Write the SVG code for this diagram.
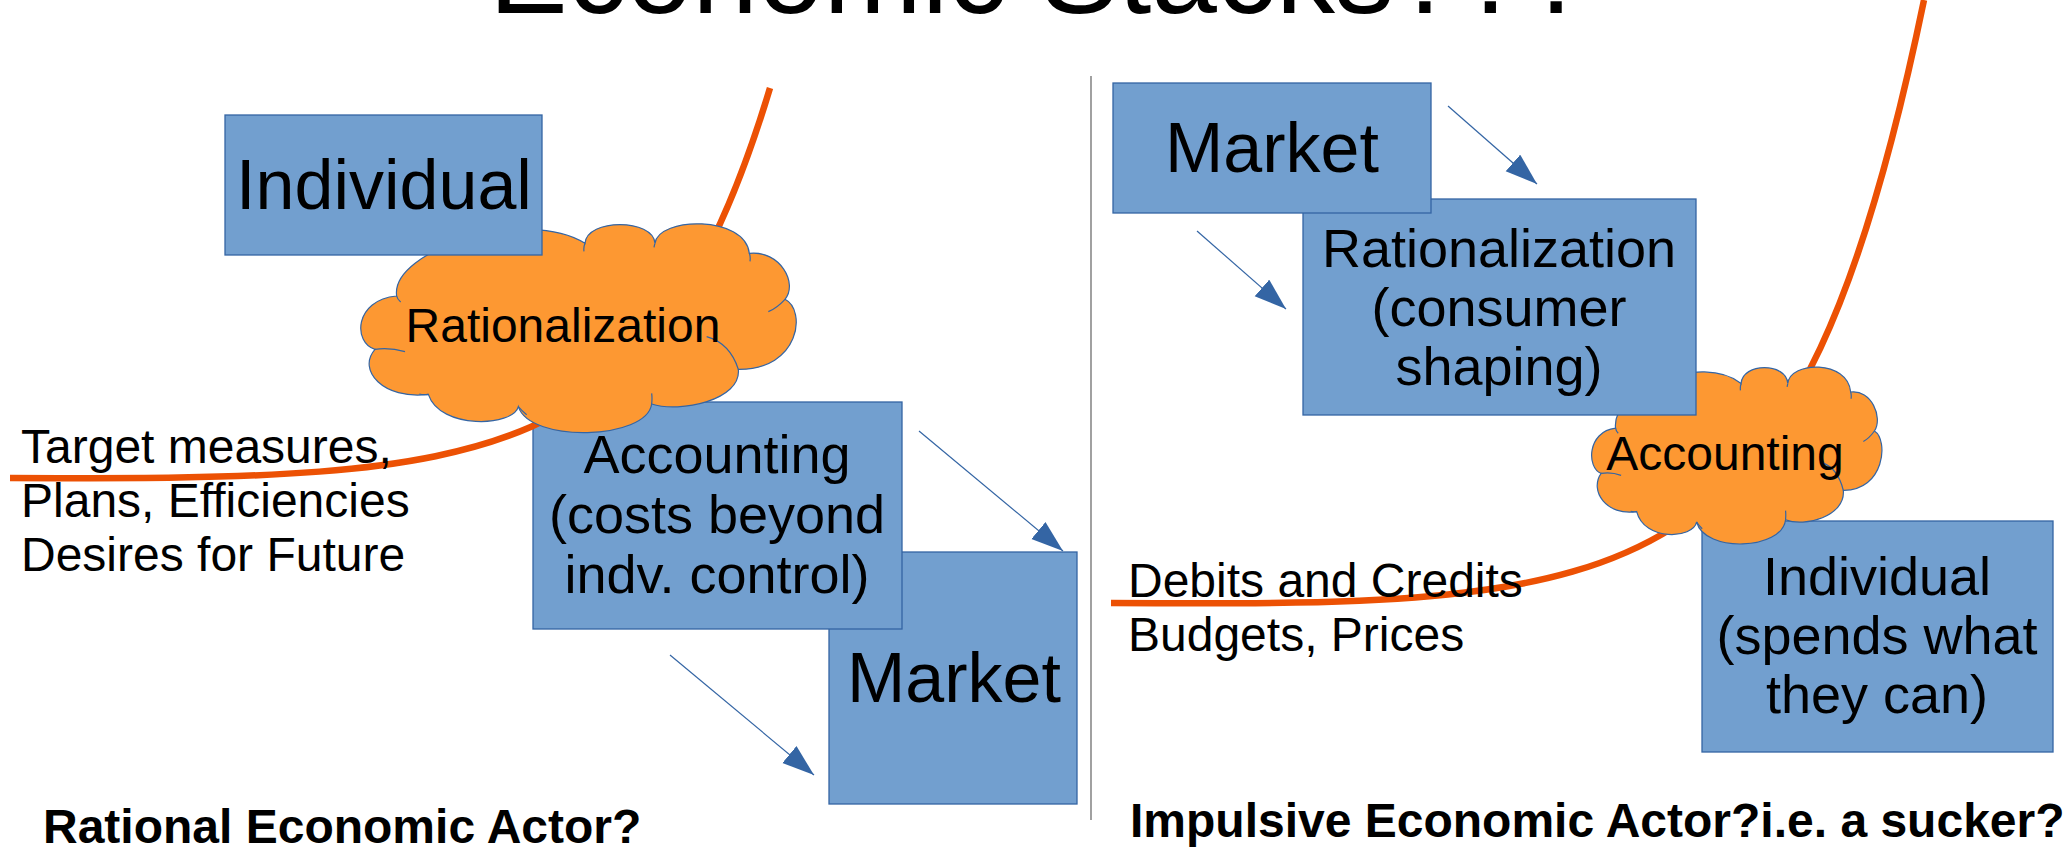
<svg xmlns="http://www.w3.org/2000/svg" width="2070" height="849" viewBox="0 0 2070 849">
<defs>
<style>
text{font-family:"Liberation Sans",Arial,sans-serif;fill:#000}
.box{fill:#729fcf;stroke:#3465a4;stroke-width:1.3}
.cloud{fill:#fd9832;stroke:#3465a4;stroke-width:1.2}
.inner{fill:none;stroke:#3465a4;stroke-width:1.2}
.red{fill:none;stroke:#ec5104;stroke-width:6.5}
.arrow{fill:none;stroke:#3465a4;stroke-width:1.2;marker-end:url(#ah)}
.big{font-size:70px;text-anchor:middle}
.mid{font-size:54px;text-anchor:middle}
.sm{font-size:48px}
.bold{font-size:48px;font-weight:bold}
</style>
<marker id="ah" markerUnits="userSpaceOnUse" markerWidth="34" markerHeight="24" refX="32" refY="11" orient="auto">
<path d="M0,0 L32,11 L0,22 Z" fill="#3465a4"/>
</marker>
<g id="cloudShape">
<path class="cloud" vector-effect="non-scaling-stroke" d="M170,258 C150,120 560,-10 735,100 C740,25 940,25 945,100 C955,20 1215,15 1228,130 C1320,120 1375,220 1335,268 C1400,300 1380,480 1195,478 C1205,570 1020,610 935,582 C920,690 570,700 535,590 C520,650 300,660 265,553 C130,570 50,480 105,418 C40,400 40,270 170,258 Z"/>
<path class="inner" vector-effect="non-scaling-stroke" d="M170,258 Q172,268 182,276 M735,100 Q730,112 732,124 M945,100 Q943,106 942,112 M1228,130 Q1232,140 1230,154 M1335,268 Q1310,295 1285,305 M1195,478 Q1170,400 1100,380 M935,582 Q937,565 935,550 M535,590 Q545,602 560,614 M265,553 Q250,555 238,552 M105,418 Q150,412 195,425"/>
</g>
</defs>
<rect width="2070" height="849" fill="#fff"/>

<text id="title" x="489" y="13" font-size="118">Economic Stacks???</text>

<line id="divider" x1="1091" y1="76" x2="1091" y2="820" stroke="#6e6e6e" stroke-width="1.3"/>

<!-- Left stack -->
<g id="market-left">
<rect class="box" x="829" y="552" width="248" height="252"/>
<text class="big" x="954" y="702">Market</text>
</g>
<g id="accounting-left">
<rect class="box" x="533" y="402" width="369" height="227"/>
<text class="mid" x="717" y="473">Accounting</text>
<text class="mid" x="717" y="533">(costs beyond</text>
<text class="mid" x="717" y="593">indv. control)</text>
</g>
<g id="curve-left">
<path class="red" d="M10,478 C500,480 655,470 770,88"/>
</g>
<g id="rationalization-cloud">
<use href="#cloudShape" transform="translate(340,210) scale(0.33333)"/>
<text class="sm" x="563" y="342" text-anchor="middle">Rationalization</text>
</g>
<g id="individual-left">
<rect class="box" x="225" y="115" width="317" height="140"/>
<text class="big" x="384" y="209">Individual</text>
</g>
<g id="labels-left">
<text class="sm" x="21" y="463">Target measures,</text>
<text class="sm" x="21" y="517">Plans, Efficiencies</text>
<text class="sm" x="21" y="571">Desires for Future</text>
<text class="bold" x="43" y="843">Rational Economic Actor?</text>
</g>

<!-- Right stack -->
<g id="individual-right">
<rect class="box" x="1702" y="521" width="351" height="231"/>
<text class="mid" x="1877" y="595">Individual</text>
<text class="mid" x="1877" y="654">(spends what</text>
<text class="mid" x="1877" y="713">they can)</text>
</g>
<g id="curve-right">
<path class="red" d="M1111,603 C1650,606 1800,600 1924,0"/>
</g>
<g id="accounting-cloud">
<use href="#cloudShape" transform="translate(1577.78,355.29) scale(0.22222,0.28254)"/>
<text class="sm" x="1725" y="470" text-anchor="middle">Accounting</text>
</g>
<g id="rationalization-right">
<rect class="box" x="1303" y="199" width="393" height="216"/>
<text class="mid" x="1499" y="267">Rationalization</text>
<text class="mid" x="1499" y="326">(consumer</text>
<text class="mid" x="1499" y="385">shaping)</text>
</g>
<g id="market-right">
<rect class="box" x="1113" y="83" width="318" height="130"/>
<text class="big" x="1272" y="172">Market</text>
</g>
<g id="labels-right">
<text class="sm" x="1128" y="597">Debits and Credits</text>
<text class="sm" x="1128" y="651">Budgets, Prices</text>
<text class="bold" x="1130" y="837">Impulsive Economic Actor?i.e. a sucker?</text>
</g>

<g id="connectors">
<line class="arrow" x1="919" y1="431" x2="1063" y2="551"/>
<line class="arrow" x1="670" y1="655" x2="814" y2="775"/>
<line class="arrow" x1="1448" y1="106" x2="1537" y2="184"/>
<line class="arrow" x1="1197" y1="231" x2="1286" y2="309"/>
</g>
</svg>
